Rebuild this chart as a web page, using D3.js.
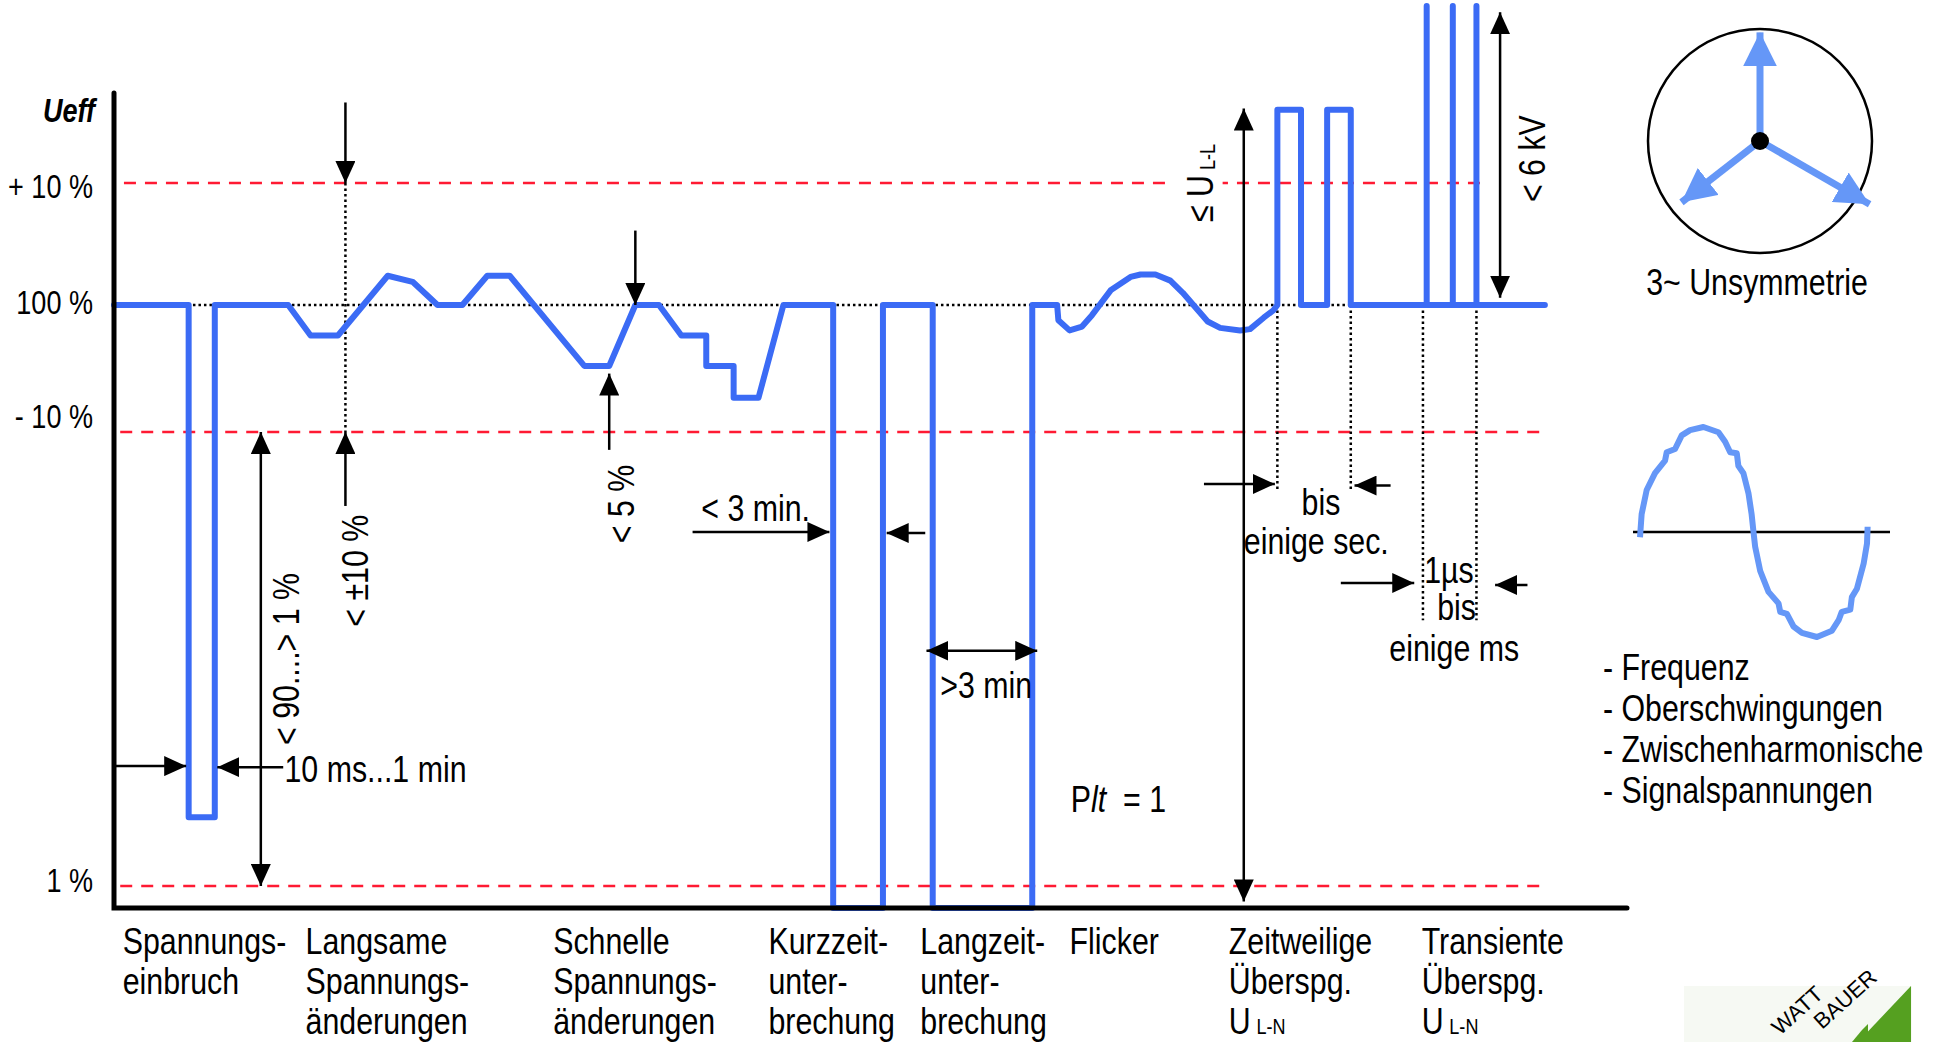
<!DOCTYPE html>
<html>
<head>
<meta charset="utf-8">
<script src="https://cdn.jsdelivr.net/npm/d3@7"></script>
<style>
    body { margin: 0; background: #fff; }
    text { font-family: "Liberation Sans", Arial, sans-serif; fill: #000; }
</style>
</head>
<body>
<svg id="chart"></svg>
<script>
// time axis is in arbitrary units, voltage in "level" units (100 = nominal)
const levelTicks = [110, 100, 90, 1];
const levelLabels = ["+ 10 %", "100 %", "- 10 %", "1 %"];

const traceT = [0, 60, 60, 81, 81, 140, 158, 180, 220, 240, 260, 280, 300, 318, 378, 398, 419, 438,
    456, 476, 476, 498, 498, 518, 538, 578, 578, 618, 618, 658, 658, 738, 738, 758,
    759, 768, 778, 786, 801, 817, 825, 837, 849, 859, 871, 879, 889, 905, 913, 924, 932, 935,
    935, 954, 954, 975, 975, 994, 994, 1055, 1055, 1055, 1076, 1076, 1076, 1095, 1095, 1095, 1150];
const traceU = [100, 100, 14.5, 14.5, 100, 100, 97.6, 97.6, 102.4, 101.9, 100, 100, 102.4, 102.4, 95.2, 95.2, 100, 100,
    97.6, 97.6, 95.2, 95.2, 92.7, 92.7, 100, 100, 0, 0, 100, 100, 0, 0, 100, 100,
    98.8, 98.0, 98.3, 99.2, 101.2, 102.3, 102.5, 102.5, 102.0, 101.0, 99.6, 98.7, 98.2, 98.0, 98.1, 99.0, 99.6, 100,
    116, 116, 100, 100, 116, 116, 100, 100, 124.5, 100, 100, 124.5, 100, 100, 124.5, 100, 100];

const categories = [
    ["Spannungs-", "einbruch"],
    ["Langsame", "Spannungs-", "änderungen"],
    ["Schnelle", "Spannungs-", "änderungen"],
    ["Kurzzeit-", "unter-", "brechung"],
    ["Langzeit-", "unter-", "brechung"],
    ["Flicker"],
    ["Zeitweilige", "Überspg.", "U|L-N"],
    ["Transiente", "Überspg.", "U|L-N"]
];
const categoryT = [7, 154, 353, 526, 648, 768, 896, 1051];

// guide lines: level, from t, to t
const guideU = [110, 90, 1];
const guideFrom = [8, 5, 5];
const guideTo = [1100, 1150, 1150];

// annotation arrows: t1, u1, t2, u2, double headed
const arrows = [
    [186, 116.6, 186, 110, false],
    [186, 75.5, 186, 90, false],
    [118, 90, 118, 1, true],
    [0, 24.5, 58, 24.5, false],
    [136, 24.3, 83, 24.3, false],
    [419, 106.1, 419, 100, false],
    [398, 86.5, 398, 94.6, false],
    [465, 70.4, 575, 70.4, false],
    [652, 70.2, 621, 70.2, false],
    [653, 47.1, 742, 47.1, true],
    [908, 116.1, 908, 0.3, true],
    [876, 79.8, 933, 79.8, false],
    [1026, 79.5, 997, 79.5, false],
    [1114, 124, 1114, 100.6, true],
    [986, 60.4, 1045, 60.4, false],
    [1136, 60.0, 1110, 60.0, false]
];

// dotted markers: t, from level, to level
const dotT = [186, 935, 994, 1052, 1095];
const dotFrom = [110, 100, 100, 100, 100];
const dotTo = [90, 78.6, 78.6, 53.1, 53.1];

// annotation texts: text, t, level, anchor, rotated
const notes = [
    ["< 90....> 1 %", 149, 45.5, "middle", true],
    ["10 ms...1 min", 137, 21.4, "start", false],
    ["< ±10 %", 204, 62.8, "middle", true],
    ["< 5 %", 418, 75.9, "middle", true],
    ["< 3 min.", 472, 72.6, "start", false],
    [">3 min", 664, 37.9, "start", false],
    ["bis", 970, 73.7, "middle", false],
    ["einige sec.", 908, 66.1, "start", false],
    ["< 6 kV", 1150, 112, "middle", true],
    ["1µs", 1053, 60.4, "start", false],
    ["bis", 1079, 53.1, "middle", false],
    ["einige ms", 1025, 45.1, "start", false]
];

// phasors of the unbalanced three phase system
const phasorAngle = [90, 218, 330];
const phasorMag = [0.97, 0.89, 1.13];

// distorted sine: phase in degrees, value -1..1
const sinePhase = [0, 2.6, 10.6, 23.8, 39.7, 42.4, 55.6, 66.2, 79.4, 100.6, 124.4, 135, 143, 153.5, 156, 164, 172, 177, 180,
    182.6, 190.6, 203.8, 219.7, 222.4, 233, 243.5, 256.8, 280.6, 304.4, 315, 320, 333.5, 336, 344, 354.7, 360, 361];
const sineValue = [-0.05, 0.17, 0.40, 0.56, 0.68, 0.76, 0.79, 0.92, 0.97, 1.0, 0.95, 0.86, 0.76, 0.75, 0.63, 0.56, 0.37, 0.17, 0,
    -0.14, -0.37, -0.57, -0.68, -0.76, -0.78, -0.90, -0.96, -1.0, -0.94, -0.84, -0.76, -0.74, -0.62, -0.54, -0.30, -0.11, 0.05];

const listItems = ["- Frequenz", "- Oberschwingungen", "- Zwischenharmonische", "- Signalspannungen"];

const W = 1941, H = 1042;
const blue = "#3b6bf5", lightBlue = "#6597f7", red = "#ff1a33";
const narrow = 0.82;   // no narrow font installed, so squeeze Liberation Sans

const svg = d3.select("#chart").attr("width", W).attr("height", H);
svg.append("rect").attr("width", W).attr("height", H).attr("fill", "#fff");

const x = d3.scaleLinear().domain([0, 1216]).range([114, 1627]);
const y = d3.scaleLinear().domain([0, 1, 90, 100, 110]).range([908, 886, 432, 305, 183]);

// place a text at (px,py), optionally rotated, squeezed horizontally
function place(px, py, rot) {
    return `translate(${px},${py})` + (rot ? ` rotate(${rot})` : "") + ` scale(${narrow},1)`;
}

const defs = svg.append("defs");
function marker(id, color, len, wid) {
    defs.append("marker")
        .attr("id", id)
        .attr("viewBox", `0 ${-wid / 2} ${len} ${wid}`)
        .attr("refX", len).attr("refY", 0)
        .attr("markerWidth", len).attr("markerHeight", wid)
        .attr("markerUnits", "userSpaceOnUse")
        .attr("orient", "auto-start-reverse")
        .append("path")
        .attr("d", `M0,${-wid / 2}L${len},0L0,${wid / 2}Z`)
        .attr("fill", color);
}
marker("ah", "#000", 22, 20);
marker("ph", lightBlue, 34, 34);

// red limit lines
svg.append("g").selectAll("line").data(guideU).join("line")
    .attr("x1", (d, i) => x(guideFrom[i])).attr("x2", (d, i) => x(guideTo[i]))
    .attr("y1", d => y(d)).attr("y2", d => y(d))
    .attr("stroke", red).attr("stroke-width", 2.5).attr("stroke-dasharray", "12,9");

// nominal dotted line
svg.append("line")
    .attr("x1", x(6)).attr("x2", x(1150)).attr("y1", y(100)).attr("y2", y(100))
    .attr("stroke", "#000").attr("stroke-width", 2.5).attr("stroke-dasharray", "2.5,3");

svg.append("g").selectAll("line").data(dotT).join("line")
    .attr("x1", d => x(d)).attr("x2", d => x(d))
    .attr("y1", (d, i) => y(dotFrom[i])).attr("y2", (d, i) => y(dotTo[i]))
    .attr("stroke", "#000").attr("stroke-width", 2.5).attr("stroke-dasharray", "2.5,3");

// trace
const line = d3.line().x(d => x(d[0])).y(d => y(d[1]));
svg.append("path")
    .datum(traceT.map((t, i) => [t, traceU[i]]))
    .attr("d", line)
    .attr("fill", "none").attr("stroke", blue).attr("stroke-width", 6)
    .attr("stroke-linejoin", "round").attr("stroke-linecap", "round");

// axes
svg.append("path")
    .attr("d", `M${x(0)},${y(0) - 815}V${y(0)}H${x(1216)}`)
    .attr("fill", "none").attr("stroke", "#000").attr("stroke-width", 5).attr("stroke-linecap", "round");

svg.append("text").attr("transform", place(95, 122)).attr("text-anchor", "end")
    .attr("font-size", 33).attr("font-weight", "bold").attr("font-style", "italic").text("Ueff");

const tickDy = [15, 9, -4, 6];
svg.append("g").selectAll("text").data(levelTicks).join("text")
    .attr("transform", (d, i) => place(93, y(d) + tickDy[i]))
    .attr("text-anchor", "end").attr("font-size", 33)
    .text((d, i) => levelLabels[i]);

// arrows
svg.append("g").selectAll("line").data(arrows).join("line")
    .attr("x1", d => x(d[0])).attr("y1", d => y(d[1]))
    .attr("x2", d => x(d[2])).attr("y2", d => y(d[3]))
    .attr("stroke", "#000").attr("stroke-width", 2.5)
    .attr("marker-end", "url(#ah)")
    .attr("marker-start", d => d[4] ? "url(#ah)" : null);

// annotation texts
svg.append("g").selectAll("text").data(notes).join("text")
    .attr("transform", d => place(x(d[1]), y(d[2]), d[4] ? -90 : 0))
    .attr("text-anchor", d => d[3]).attr("font-size", 37)
    .text(d => d[0]);

// U_L-L label (rotated), with a white patch that interrupts the +10 % line
svg.append("rect").attr("x", x(846)).attr("y", y(110) - 4)
    .attr("width", x(891) - x(846)).attr("height", 8).attr("fill", "#fff");
const ull = svg.append("text")
    .attr("transform", place(x(883), y(110), -90))
    .attr("text-anchor", "middle").attr("font-size", 37);
ull.append("tspan").text("≤ U");
ull.append("tspan").attr("font-size", 22).attr("dx", 6).attr("dy", 2).text("L-L");

// P_lt = 1
const plt = svg.append("text").attr("transform", place(x(769), y(15.5))).attr("font-size", 37);
plt.append("tspan").text("P");
plt.append("tspan").attr("font-style", "italic").text("lt");
plt.append("tspan").attr("xml:space", "preserve").text("  = 1");

// category labels
const cat = svg.append("g").selectAll("text").data(categories).join("text")
    .attr("transform", (d, i) => place(x(categoryT[i]), y(0) + 46)).attr("font-size", 37);
cat.each(function (lines) {
    const t = d3.select(this);
    lines.forEach((s, j) => {
        const parts = s.split("|");
        t.append("tspan").attr("x", 0).attr("dy", j === 0 ? 0 : 40).text(parts[0]);
        if (parts[1]) t.append("tspan").attr("font-size", 22).attr("dx", 7).text(parts[1]);
    });
});

// unsymmetry phasor diagram
const cx = 1760, cy = 141, R = 112;
const rScale = d3.scaleLinear().domain([0, 1]).range([0, R]);
svg.append("circle").attr("cx", cx).attr("cy", cy).attr("r", R)
    .attr("fill", "none").attr("stroke", "#000").attr("stroke-width", 2.5);
svg.append("g").selectAll("line").data(phasorAngle).join("line")
    .attr("x1", cx).attr("y1", cy)
    .attr("x2", (d, i) => cx + rScale(phasorMag[i]) * Math.cos(d * Math.PI / 180))
    .attr("y2", (d, i) => cy - rScale(phasorMag[i]) * Math.sin(d * Math.PI / 180))
    .attr("stroke", lightBlue).attr("stroke-width", 7)
    .attr("marker-end", "url(#ph)");
svg.append("circle").attr("cx", cx).attr("cy", cy).attr("r", 9).attr("fill", "#000");
svg.append("text").attr("transform", place(cx - 3, 295)).attr("text-anchor", "middle")
    .attr("font-size", 37).text("3~ Unsymmetrie");

// distorted sine
const sx = d3.scaleLinear().domain([0, 360]).range([1640, 1867]);
const sy = d3.scaleLinear().domain([-1, 1]).range([637, 427]);
svg.append("line").attr("x1", 1633).attr("x2", 1890).attr("y1", sy(0)).attr("y2", sy(0))
    .attr("stroke", "#000").attr("stroke-width", 2.5);
svg.append("path")
    .datum(sinePhase.map((p, i) => [p, sineValue[i]]))
    .attr("d", d3.line().x(d => sx(d[0])).y(d => sy(d[1])))
    .attr("fill", "none").attr("stroke", lightBlue).attr("stroke-width", 6)
    .attr("stroke-linejoin", "round");

svg.append("g").selectAll("text").data(listItems).join("text")
    .attr("transform", (d, i) => place(1603, 680 + i * 41))
    .attr("font-size", 37).text(d => d);

// logo corner
const logo = svg.append("g");
logo.append("rect").attr("x", 1684).attr("y", 986).attr("width", 228).attr("height", 56).attr("fill", "#f6f9f3");
logo.append("path").attr("d", "M1911,986V1042H1858Z").attr("fill", "#55a020");
logo.append("path").attr("d", "M1862,1030L1868,1024V1042H1852Z").attr("fill", "#55a020");
logo.append("text").attr("transform", "translate(1780,1036) rotate(-42)")
    .attr("font-size", 22).text("WATT");
logo.append("text").attr("transform", "translate(1822,1030) rotate(-42)")
    .attr("font-size", 22).text("BAUER");
</script>
</body>
</html>
